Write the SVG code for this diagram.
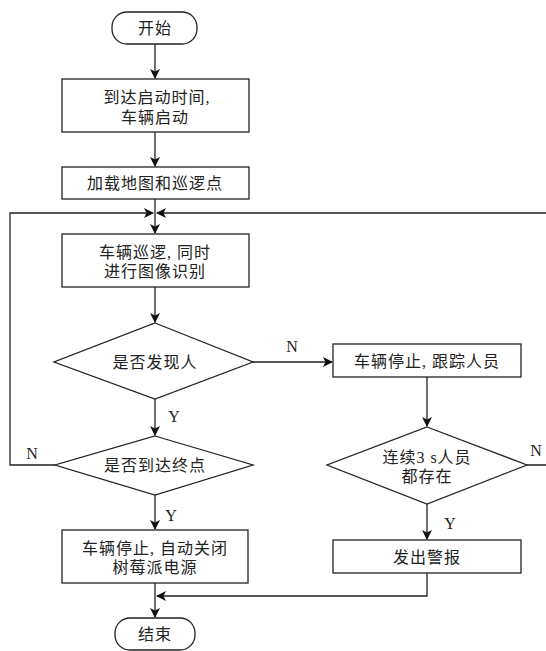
<svg xmlns="http://www.w3.org/2000/svg" width="546" height="651" viewBox="0 0 546 651">
<defs>
<marker id="arr" markerWidth="10" markerHeight="10" refX="9" refY="5" orient="auto" markerUnits="userSpaceOnUse">
<path d="M0,0 L10,5 L0,10 L2.5,5 Z" fill="#111"/>
</marker>
<style>
.shape{fill:#fff;stroke:#222;stroke-width:1.3}
.con{fill:none;stroke:#222;stroke-width:1.3}
.t{font-family:"Liberation Serif","Noto Sans CJK SC",serif;font-size:16px;fill:#222;text-anchor:middle;dominant-baseline:central;letter-spacing:1px}
.lab{font-family:"Liberation Serif",serif;font-size:16px;fill:#222;text-anchor:middle;dominant-baseline:central}
</style>
</defs>
<rect width="546" height="651" fill="#fff"/>
<g id="connectors">
<line class="con" x1="155" y1="44" x2="155" y2="78" marker-end="url(#arr)"/>
<line class="con" x1="155" y1="132" x2="155" y2="166" marker-end="url(#arr)"/>
<line class="con" x1="155" y1="199" x2="155" y2="233" marker-end="url(#arr)"/>
<line class="con" x1="155" y1="287" x2="155" y2="322" marker-end="url(#arr)"/>
<line class="con" x1="155" y1="399" x2="155" y2="435" marker-end="url(#arr)"/>
<line class="con" x1="155" y1="495" x2="155" y2="529" marker-end="url(#arr)"/>
<line class="con" x1="155" y1="583" x2="155" y2="617" marker-end="url(#arr)"/>
<polyline class="con" points="55,465 10,465 10,213 153,213" marker-end="url(#arr)"/>
<polyline class="con" points="527,465 549,465 549,213 157,213" marker-end="url(#arr)"/>
<line class="con" x1="253" y1="362" x2="332" y2="362" marker-end="url(#arr)"/>
<line class="con" x1="427" y1="377" x2="427" y2="426" marker-end="url(#arr)"/>
<line class="con" x1="427" y1="504" x2="427" y2="539" marker-end="url(#arr)"/>
<polyline class="con" points="427,573 427,596 157,596" marker-end="url(#arr)"/>
<text class="lab" x="292" y="346">N</text>
<text class="lab" x="174" y="416">Y</text>
<text class="lab" x="32" y="453">N</text>
<text class="lab" x="171" y="515">Y</text>
<text class="lab" x="536" y="450">N</text>
<text class="lab" x="450" y="523">Y</text>
</g>
<g id="start">
<rect class="shape" x="112" y="12" width="85" height="32" rx="15"/>
<text class="t" x="155" y="28">开始</text>
</g>
<g id="box1">
<rect class="shape" x="62" y="79" width="187" height="53"/>
<text class="t" x="157" y="97">到达启动时间,</text>
<text class="t" x="155" y="117">车辆启动</text>
</g>
<g id="box2">
<rect class="shape" x="62" y="167" width="187" height="32"/>
<text class="t" x="155" y="183">加载地图和巡逻点</text>
</g>
<g id="box3">
<rect class="shape" x="62" y="234" width="187" height="53"/>
<text class="t" x="155" y="252">车辆巡逻, 同时</text>
<text class="t" x="155" y="271">进行图像识别</text>
</g>
<g id="dec1">
<polygon class="shape" points="155,323 253,362 155,399 54,362"/>
<text class="t" x="155" y="362">是否发现人</text>
</g>
<g id="dec2">
<polygon class="shape" points="155,436 253,465 155,495 55,465"/>
<text class="t" x="155" y="465">是否到达终点</text>
</g>
<g id="box4">
<rect class="shape" x="62" y="530" width="186" height="53"/>
<text class="t" x="155" y="548">车辆停止, 自动关闭</text>
<text class="t" x="155" y="567">树莓派电源</text>
</g>
<g id="end">
<rect class="shape" x="115" y="618" width="80" height="32" rx="15"/>
<text class="t" x="155" y="634">结束</text>
</g>
<g id="box5">
<rect class="shape" x="333" y="344" width="188" height="33"/>
<text class="t" x="427" y="361">车辆停止, 跟踪人员</text>
</g>
<g id="dec3">
<polygon class="shape" points="427,427 527,465 427,504 327,465"/>
<text class="t" x="427" y="457">连续3 s人员</text>
<text class="t" x="427" y="476">都存在</text>
</g>
<g id="box6">
<rect class="shape" x="333" y="540" width="188" height="33"/>
<text class="t" x="427" y="557">发出警报</text>
</g>
</svg>
